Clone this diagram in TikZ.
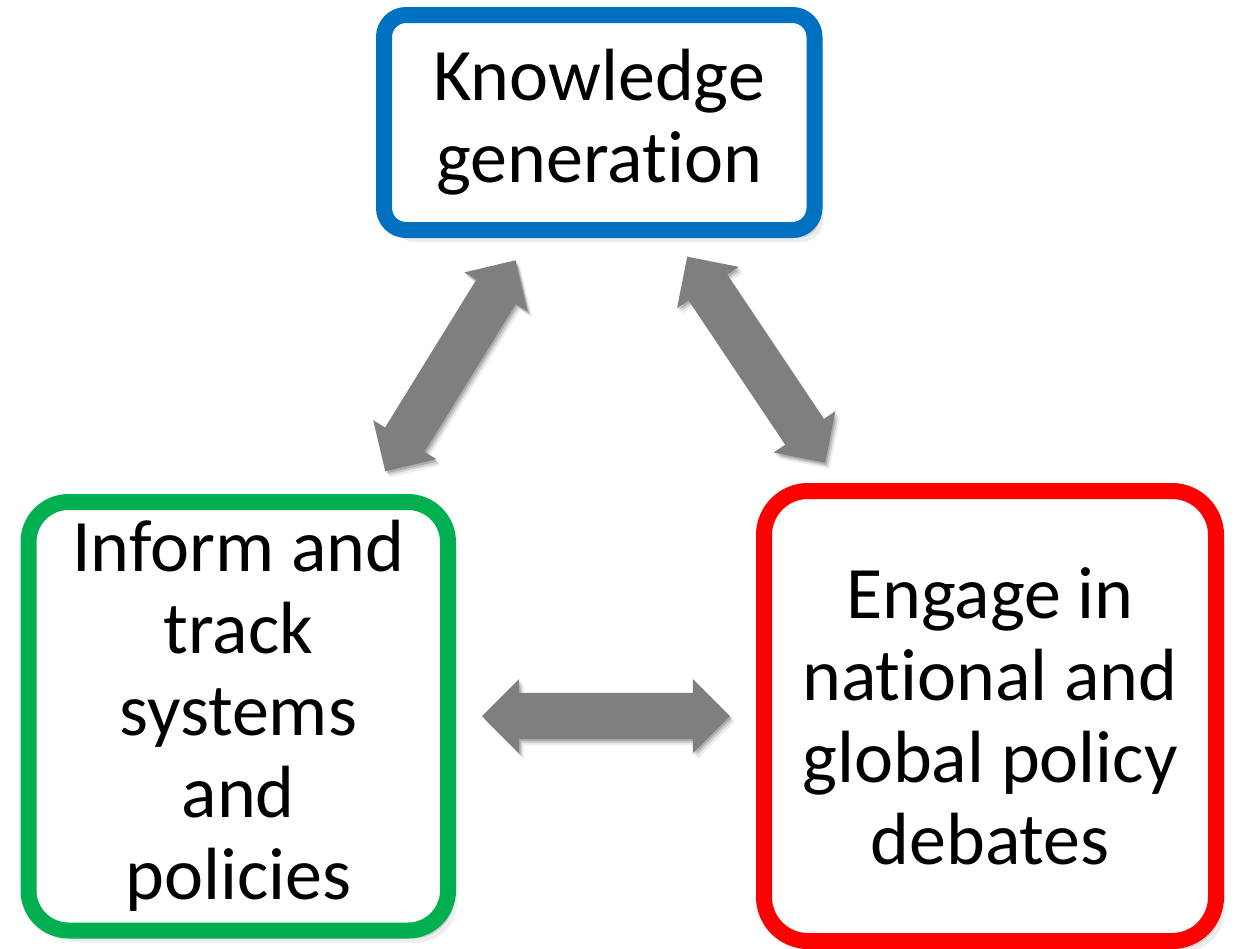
\documentclass[tikz,border=0pt]{standalone}
\usepackage{fontspec}
\setmainfont{Carlito}[Ligatures=NoCommon]
\usetikzlibrary{shapes.arrows,shadows}

\definecolor{kgblue}{HTML}{0070C0}
\definecolor{trgreen}{HTML}{00B050}
\definecolor{enred}{HTML}{FF0000}
\definecolor{arrowgray}{HTML}{7F7F7F}

\tikzset{
  % soft shadow built from a few faint offset copies
  softshadow/.style={
    drop shadow={shadow xshift=#1*0.5pt, shadow yshift=-#1*0.7pt, opacity=.16, fill=black},
    drop shadow={shadow xshift=#1*1.0pt, shadow yshift=-#1*1.3pt, opacity=.12, fill=black},
    drop shadow={shadow xshift=#1*1.5pt, shadow yshift=-#1*2.0pt, opacity=.07, fill=black}},
  cyclebox/.style={draw=#1, fill=white, line width=16pt, inner sep=0pt,
    align=center, font=\fontsize{74}{82}\selectfont},
  % shaft 46pt thick, heads reach 14pt beyond it on each side
  linkarrow/.style={double arrow, fill=arrowgray, draw=none, inner sep=0pt,
    text height=23pt, text depth=23pt, text width=0pt,
    minimum height=248pt,
    double arrow head extend=14pt, double arrow tip angle=90,
    softshadow=3}
}

\begin{document}
\begin{tikzpicture}[x=1pt, y=-1pt]
  \useasboundingbox (0,0) rectangle (1236,948);
  \fill[white] (0,0) rectangle (1236,948);

  % the three stages of the cycle
  \node[cyclebox=kgblue, rounded corners=22pt, softshadow=6,
        minimum width=430.5pt, minimum height=215pt]
    (knowledge) at (599.25,122.5) {Knowledge\\generation};
  \node[cyclebox=trgreen, rounded corners=40pt, softshadow=6,
        minimum width=419.5pt, minimum height=428.5pt]
    (inform) at (238.25,716.25) {Inform and\\track\\systems\\and\\policies};
  \node[cyclebox=enred, rounded corners=44pt, softshadow=6,
        minimum width=452pt, minimum height=450pt]
    (engage) at (990,716) {Engage in\\national and\\global policy\\debates};

  % two-way links between the stages
  \node[linkarrow, rotate=58.3]  (linkKI) at (450.4,365.8) {};
  \node[linkarrow, rotate=-56.2] (linkKE) at (756.2,359.7) {};
  \node[linkarrow]               (linkIE) at (606,716) {};
\end{tikzpicture}
\end{document}
